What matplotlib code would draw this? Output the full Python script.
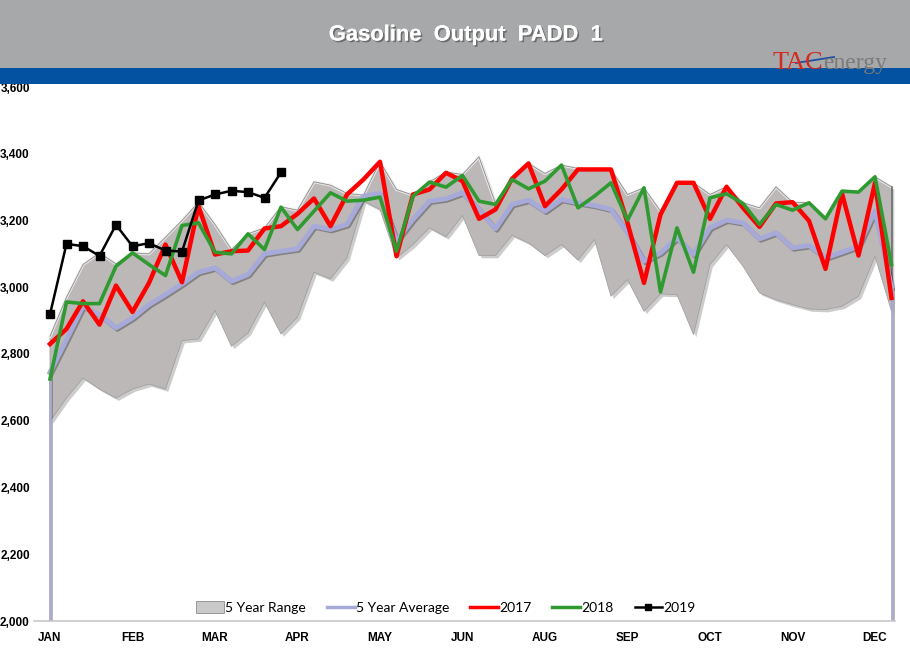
import numpy as np
import matplotlib
matplotlib.use("Agg")
import matplotlib.pyplot as plt
import matplotlib.patheffects as pe
from matplotlib.patches import Rectangle, Patch
from matplotlib.lines import Line2D

# weekly gasoline output, PADD 1 (kb/d)
weeks = np.arange(52)
month_labels = ["JAN", "FEB", "MAR", "APR", "MAY", "JUN", "AUG", "SEP", "OCT", "NOV", "DEC"]

range_max = [2853, 2970, 3068, 3103, 3070, 3103, 3100, 3150, 3200, 3255,
             3188, 3113, 3160, 3178, 3241, 3231, 3316, 3306, 3281, 3276,
             3376, 3293, 3276, 3316, 3345, 3338, 3391, 3251, 3326, 3371,
             3341, 3366, 3356, 3353, 3353, 3278, 3298, 3228, 3313, 3313,
             3278, 3301, 3253, 3238, 3301, 3255, 3253, 3208, 3288, 3285,
             3331, 3301]
range_min = [2598, 2668, 2728, 2695, 2668, 2695, 2710, 2695, 2840, 2845,
             2930, 2823, 2863, 2955, 2860, 2910, 3045, 3025, 3088, 3258,
             3233, 3088, 3128, 3178, 3151, 3215, 3095, 3095, 3156, 3133,
             3095, 3128, 3081, 3143, 2973, 3023, 2928, 2980, 2978, 2858,
             3068, 3128, 3063, 2983, 2963, 2948, 2935, 2933, 2943, 2973,
             3093, 2928]
avg5 = [2745, 2843, 2943, 2918, 2878, 2908, 2948, 2978, 3010, 3045,
        3058, 3018, 3038, 3100, 3108, 3115, 3183, 3173, 3188, 3273,
        3281, 3140, 3203, 3258, 3265, 3283, 3233, 3175, 3248, 3261,
        3228, 3263, 3253, 3245, 3233, 3163, 3078, 3103, 3148, 3098,
        3178, 3201, 3193, 3145, 3163, 3118, 3125, 3088, 3105, 3123,
        3228, 3000]
y2017 = [2830, 2875, 2958, 2888, 3005, 2926, 3013, 3128, 3015, 3243,
         3098, 3108, 3110, 3176, 3183, 3220, 3266, 3183, 3278, 3323,
         3376, 3093, 3278, 3293, 3343, 3318, 3205, 3233, 3325, 3371,
         3243, 3293, 3353, 3353, 3353, 3193, 3013, 3218, 3313, 3313,
         3205, 3301, 3238, 3181, 3251, 3255, 3199, 3055, 3281, 3095,
         3313, 2968]
y2018 = [2725, 2956, 2951, 2951, 3063, 3103, 3068, 3035, 3185, 3193,
         3105, 3100, 3160, 3113, 3240, 3173, 3228, 3283, 3258, 3261,
         3270, 3108, 3273, 3315, 3300, 3335, 3258, 3248, 3323, 3295,
         3318, 3366, 3238, 3273, 3313, 3201, 3298, 2986, 3178, 3045,
         3268, 3280, 3251, 3188, 3248, 3231, 3253, 3205, 3288, 3285,
         3331, 3068]
y2019 = [2919, 3130, 3123, 3094, 3187, 3123, 3132, 3110, 3107, 3260,
         3278, 3289, 3285, 3268, 3344]

W, H = 910, 659
fig = plt.figure(figsize=(W / 100, H / 100), dpi=100)
fig.patch.set_facecolor("white")

# header band
fig.patches.append(Rectangle((0, 1 - 68 / H), 1, 68 / H, transform=fig.transFigure,
                             facecolor="#a7a8aa", edgecolor="none", zorder=0))
fig.patches.append(Rectangle((0, 1 - 84 / H), 1, 16 / H, transform=fig.transFigure,
                             facecolor="#0352a1", edgecolor="none", zorder=0))
fig.text(466 / W, 1 - 35 / H, "Gasoline  Output  PADD  1", ha="center", va="center",
         color="white", fontsize=15.8, fontweight="bold", family="Liberation Sans",
         path_effects=[pe.withSimplePatchShadow(offset=(1.2, -1.2), shadow_rgbFace="#555555", alpha=0.7),
                       pe.Normal()])

# logo
fig.text(823 / W, 1 - 69 / H, "TAC", ha="right", va="baseline", color="#d42a20",
         fontsize=19, family="Liberation Serif")
fig.text(823 / W, 1 - 69 / H, "energy", ha="left", va="baseline", color="#7a7a7a",
         fontsize=17, family="Liberation Serif")
fig.lines.append(Line2D([796 / W, 834 / W], [1 - 63 / H, 1 - 57 / H], transform=fig.transFigure,
                        color="#1f4fa0", lw=1.3))

ax = fig.add_axes([34 / W, 38 / H, (895 - 34) / W, (621 - 87) / H])
ax.set_xlim(-16 / 16.5, 51 + 3.5 / 16.5)
ax.set_ylim(2000, 3600)

rng = ax.fill_between(weeks, range_min, range_max, facecolor="#bcb8b8", edgecolor="#9a9a9a",
                      linewidth=0.5, zorder=1)
rng.set_path_effects([pe.SimplePatchShadow(offset=(2, -2), alpha=0.25), pe.Normal()])
ax.plot(weeks, range_max, color="#f2f2f2", lw=2.2, alpha=0.8, zorder=1.5)
ax.plot(weeks, range_max, color="#8c8c8c", lw=0.6, zorder=1.6)
ax.plot([weeks[-1], weeks[-1]], [range_min[-1], range_max[-1]], color="#6e6e6e", lw=1.2, zorder=1.6)

# average drawn as an area outline, dropping to the axis floor at both ends
ax.plot(weeks, avg5, color="#a7aad8", lw=3.5, zorder=2,
        path_effects=[pe.SimpleLineShadow(offset=(1, -1), alpha=0.3), pe.Normal()])
for i in (0, -1):
    ax.plot([weeks[i], weeks[i]], [2000, avg5[i]], color="#a9abcf", lw=2, zorder=2,
            path_effects=[pe.SimpleLineShadow(offset=(1, -1), alpha=0.3), pe.Normal()])
ax.plot(weeks, y2017, color="#ff0000", lw=3.2, zorder=3)
ax.plot(weeks, y2018, color="#2f9a2f", lw=2.6, zorder=4)
ax.plot(weeks[:len(y2019)], y2019, color="black", lw=1.8, marker="s", markersize=6, zorder=5)

ax.set_yticks(np.arange(2000, 3601, 200))
ax.set_yticklabels([f"{v:,}" for v in range(2000, 3601, 200)])
ax.set_xticks(weeks[::5])
ax.set_xticklabels(month_labels)
ax.tick_params(axis="y", length=0, pad=3, labelsize=8.5)
ax.tick_params(axis="x", length=0, pad=8, labelsize=8.5)
for lab in ax.get_xticklabels() + ax.get_yticklabels():
    lab.set_fontweight("bold")
    lab.set_family("Liberation Sans")

for s in ["top", "left", "right"]:
    ax.spines[s].set_visible(False)
ax.spines["bottom"].set_color("#c8c8c8")
ax.spines["bottom"].set_linewidth(1.2)

handles = [Patch(facecolor="#c9c9c9", edgecolor="#8c8c8c", linewidth=0.6),
           Line2D([], [], color="#a7aad8", lw=2.5),
           Line2D([], [], color="#ff0000", lw=2.5),
           Line2D([], [], color="#2f9a2f", lw=2.5),
           Line2D([], [], color="black", lw=1.8, marker="s", markersize=5)]
labels = ["5 Year Range", "5 Year Average", "2017", "2018", "2019"]
ax.legend(handles, labels, loc="lower center", bbox_to_anchor=((446 - 34) / 861, -0.005),
          ncol=5, frameon=False, handlelength=2.0, handletextpad=0.1, handleheight=0.9,
          columnspacing=1.5, borderaxespad=0.3, prop={"family": "Lato", "size": 10})

fig.savefig("out.png", dpi=100)
